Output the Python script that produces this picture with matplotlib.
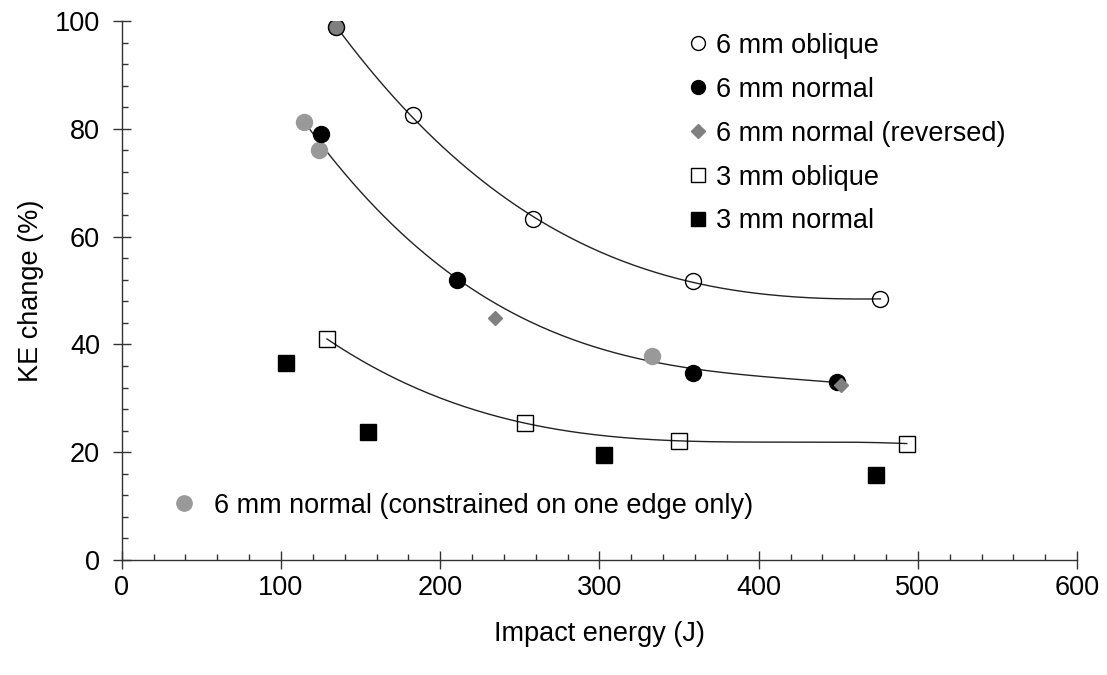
import numpy as np
from matplotlib import pyplot as plt
from matplotlib.lines import Line2D
from matplotlib.ticker import MultipleLocator

plt.rcParams['font.family'] = ['Liberation Sans', 'DejaVu Sans']

# data
obl6_x = [134.6, 182.8, 258.0, 359.0, 476.5]
obl6_y = [98.8, 82.6, 63.3, 51.7, 48.4]

nor6_x = [125.2, 210.5, 358.5, 449.5]
nor6_y = [79.1, 51.9, 34.6, 33.0]

rev6_x = [234.6, 451.6]
rev6_y = [44.9, 32.4]

obl3_x = [128.9, 253.0, 350.0, 493.0]
obl3_y = [41.0, 25.4, 22.1, 21.6]

nor3_x = [103.0, 154.9, 303.0, 474.0]
nor3_y = [36.5, 23.8, 19.5, 15.8]

con6_x = [114.5, 123.7, 333.3]
con6_y = [81.2, 76.0, 37.8]
# top point of oblique series was also an edge-constrained test
con6_top_x = [134.6]
con6_top_y = [98.8]

fig = plt.figure(figsize=(11.07, 6.75), dpi=100)
ax = fig.add_axes([0.110, 0.1704, 0.863, 0.7985])

#trend lines (cubic fits, like the spreadsheet trendlines)
def trend(xs, ys, deg=3):
    c = np.polyfit(xs, ys, deg)
    xx = np.linspace(min(xs), max(xs), 200)
    return xx, np.polyval(c, xx)

lc = '#222222'
xx, yy = trend(obl6_x, obl6_y)
ax.plot(xx, yy, color=lc, lw=1.0, zorder=2)
mid_x = nor6_x + con6_x
mid_y = nor6_y + con6_y
xx, yy = trend(mid_x, mid_y)
ax.plot(xx, yy, color=lc, lw=1.0, zorder=2)
xx, yy = trend(obl3_x, obl3_y)
ax.plot(xx, yy, color=lc, lw=1.0, zorder=2)

ms = 11.5
ax.plot(con6_x, con6_y, 'o', ms=ms, color='#999999', mec='#999999', zorder=3)
ax.plot(con6_top_x, con6_top_y, 'o', ms=ms, color='#7f7f7f', mec='#7f7f7f', zorder=3)
ax.plot(obl6_x, obl6_y, 'o', ms=ms, mfc='none', mec='black', mew=1.0, zorder=4)
ax.plot(nor6_x, nor6_y, 'o', ms=ms, color='black', zorder=4)
ax.plot(rev6_x, rev6_y, 'D', ms=7.5, color='#808080', zorder=5)
ax.plot(obl3_x, obl3_y, 's', ms=11, mfc='none', mec='black', mew=1.0, zorder=4)
ax.plot(nor3_x, nor3_y, 's', ms=11, color='black', zorder=4)

fs = 19.5
ax.set_xlim(0, 600)
ax.set_ylim(0, 100)
ax.xaxis.set_major_locator(MultipleLocator(100))
ax.xaxis.set_minor_locator(MultipleLocator(20))
ax.yaxis.set_major_locator(MultipleLocator(20))
ax.yaxis.set_minor_locator(MultipleLocator(4))
ax.tick_params(which='major', direction='inout', length=13, width=1.0,
               color='#333333', labelsize=fs)
ax.tick_params(axis='y', which='major', pad=9)
ax.tick_params(axis='x', which='major', pad=4)
ax.tick_params(which='minor', direction='in', length=4.5, width=1.0,
               color='#333333')
for s in ['top', 'right']:
    ax.spines[s].set_visible(False)
for s in ['left', 'bottom']:
    ax.spines[s].set_color('#333333')
    ax.spines[s].set_linewidth(1.0)

ax.set_xlabel('Impact energy (J)', fontsize=fs, labelpad=15)
ax.set_ylabel('KE change (%)', fontsize=fs, labelpad=8)

handles = [
    Line2D([], [], ls='none', marker='o', ms=10, mfc='none', mec='black'),
    Line2D([], [], ls='none', marker='o', ms=10, color='black'),
    Line2D([], [], ls='none', marker='D', ms=7, color='#808080'),
    Line2D([], [], ls='none', marker='s', ms=10, mfc='none', mec='black'),
    Line2D([], [], ls='none', marker='s', ms=10, color='black'),
]
labels = ['6 mm oblique', '6 mm normal', '6 mm normal (reversed)',
          '3 mm oblique', '3 mm normal']
leg = ax.legend(handles, labels, loc='upper left', bbox_to_anchor=(0.58, 0.998),
                frameon=False, fontsize=fs, handlelength=0.8, handletextpad=0.3,
                labelspacing=0.66, borderaxespad=0)
ax.add_artist(leg)

h2 = [Line2D([], [], ls='none', marker='o', ms=11, color='#999999')]
ax.legend(h2, ['6 mm normal (constrained on one edge only)'], loc='upper left',
          bbox_to_anchor=(0.04, 0.145), frameon=False, fontsize=fs,
          handlelength=1.0, handletextpad=0.6, borderaxespad=0)

plt.savefig('out.png', dpi=100)
